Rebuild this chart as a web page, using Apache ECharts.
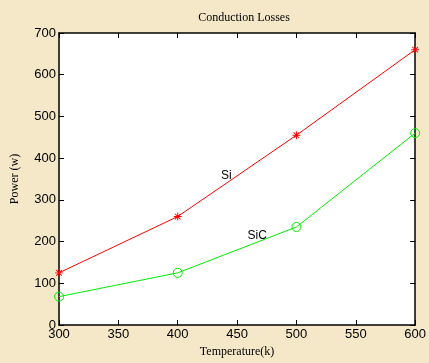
<!DOCTYPE html>
<html>
<head>
<meta charset="utf-8">
<script src="https://cdn.jsdelivr.net/npm/echarts@6/dist/echarts.min.js"></script>
<style>
  html, body { margin: 0; padding: 0; background: #f4e8c8; }
  #chart { width: 429px; height: 363px; }
</style>
</head>
<body>
<div id="chart"></div>
<script>
var temps = [300, 400, 500, 600];
var siLoss = [125, 260, 455, 660];
var sicLoss = [68, 125, 235, 460];
// 曲线旁的文字标注 [x, y, 文字]
var notes = [[441, 357, 'Si'], [467, 213, 'SiC']];

var star = 'path://M-0.6,-5 L0.6,-5 L0.6,5 L-0.6,5 Z M-5,-0.6 L5,-0.6 L5,0.6 L-5,0.6 Z M-3.9,-3.1 L-3.1,-3.9 L3.9,3.1 L3.1,3.9 Z M3.1,-3.9 L3.9,-3.1 L-3.1,3.9 L-3.9,3.1 Z';

function pairs(xs, ys) {
    return xs.map(function (x, i) { return [x, ys[i]]; });
}

var myChart = echarts.init(document.getElementById('chart'));

// 坐标轴公共样式，刻度朝里
var axisCommon = {
    type: 'value',
    axisLine: { show: true, onZero: false, lineStyle: { color: '#000', width: 1.5 } },
    axisTick: { show: true, inside: true, length: 5, lineStyle: { color: '#000' } },
    splitLine: { show: false }
};

var option = {
    backgroundColor: '#f4e8c8',
    animation: false,
    title: {
        text: 'Conduction Losses',
        left: 239,
        textAlign: 'center',
        top: 7,
        textStyle: { fontFamily: 'Liberation Serif', fontWeight: 'normal', fontSize: 12, color: '#000' }
    },
    grid: {
        left: 59, right: 12, top: 33, bottom: 38,
        show: true, backgroundColor: '#fff', borderWidth: 0
    },
    xAxis: [
        Object.assign({}, axisCommon, {
            min: 300, max: 600, interval: 50,
            name: 'Temperature(k)',
            nameLocation: 'middle',
            nameGap: 21,
            nameTextStyle: { fontFamily: 'Liberation Serif', fontSize: 12, color: '#000' },
            axisLabel: { color: '#000', fontFamily: 'Liberation Sans', fontSize: 13, margin: 3 }
        }),
        Object.assign({}, axisCommon, {
            position: 'top', min: 300, max: 600, interval: 50,
            axisLabel: { show: false }
        })
    ],
    yAxis: [
        Object.assign({}, axisCommon, {
            min: 0, max: 700, interval: 100,
            name: 'Power (w)',
            nameLocation: 'middle',
            nameGap: 38,
            nameTextStyle: { fontFamily: 'Liberation Serif', fontSize: 12, color: '#000' },
            axisLabel: { color: '#000', fontFamily: 'Liberation Sans', fontSize: 13, margin: 3 }
        }),
        Object.assign({}, axisCommon, {
            position: 'right', min: 0, max: 700, interval: 100,
            axisLabel: { show: false }
        })
    ],
    series: [
        {
            name: 'Si',
            type: 'line',
            data: pairs(temps, siLoss),
            symbol: star,
            symbolSize: 8,
            showAllSymbol: true,
            lineStyle: { color: '#ff0000', width: 1 },
            itemStyle: { color: '#ff0000' },
            markPoint: {
                symbol: 'circle', symbolSize: 0,
                label: { show: true, position: 'inside', color: '#000', fontFamily: 'Liberation Sans', fontSize: 12, formatter: '{b}' },
                data: [{ name: notes[0][2], coord: [notes[0][0], notes[0][1]] }]
            }
        },
        {
            name: 'SiC',
            type: 'line',
            data: pairs(temps, sicLoss),
            symbol: 'circle',
            symbolSize: 9,
            showAllSymbol: true,
            lineStyle: { color: '#00ee00', width: 1 },
            itemStyle: { color: 'rgba(255,255,255,0)', borderColor: '#00ee00', borderWidth: 1 },
            markPoint: {
                symbol: 'circle', symbolSize: 0,
                label: { show: true, position: 'inside', color: '#000', fontFamily: 'Liberation Sans', fontSize: 12, formatter: '{b}' },
                data: [{ name: notes[1][2], coord: [notes[1][0], notes[1][1]] }]
            }
        }
    ]
};

myChart.setOption(option);
</script>
</body>
</html>
